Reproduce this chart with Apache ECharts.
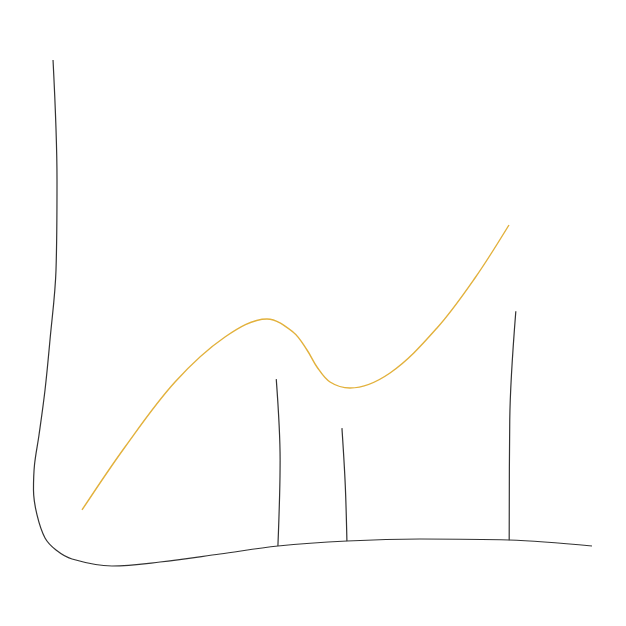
<!DOCTYPE html>
<html>
<head>
<meta charset="utf-8">
<title>sketch</title>
<script src="https://cdn.jsdelivr.net/npm/echarts@6/dist/echarts.min.js"></script>
<style>
html, body { margin: 0; padding: 0; background: #fff; }
#main { width: 626px; height: 626px; }
</style>
</head>
<body>
<div id="main"></div>
<script>
// hand drawn axis frame (left edge running into the baseline)
var axisX = [2.36, 3.08, 2.90, 1.81, 0.91, -0.18, -1.00, -1.18, -0.54, 0.91, 2.90, 5.80, 13.04, 21.74, 32.61, 43.12, 55.62, 68.84, 84.96, 100];
var axisY = [100, 75.26, 56.70, 42.27, 31.96, 22.68, 16.49, 11.34, 6.19, 1.44, -1.03, -2.89, -4.33, -3.51, -1.86, -0.21, 0.82, 1.24, 1.03, -0.21];

// three vertical strokes (top, middle, foot)
var stick1X = [42.8, 43.5, 43.1];
var stick1Y = [34.2, 17.5, -0.2];
var stick2X = [54.7, 55.3, 55.6];
var stick2Y = [24.1, 12.4, 0.8];
var stick3X = [86.2, 85.1, 85.0];
var stick3Y = [48.2, 25.8, 1.0];

// the yellow curve
var curveX = [7.61, 15.40, 24.46, 33.51, 41.12, 45.83, 48.37, 50.18, 52.54, 56.16, 63.41, 71.92, 78.80, 84.96];
var curveY = [7.22, 20.21, 33.61, 42.89, 46.60, 43.92, 40.21, 36.70, 33.61, 32.37, 35.46, 44.74, 55.05, 65.98];

function pairs(xs, ys) {
	var out = [];
	for (var i = 0; i < xs.length; i++) {
		out.push([xs[i], ys[i]]);
	}
	return out;
}

function stroke(xs, ys, color, width) {
	return {
		type: 'line',
		data: pairs(xs, ys),
		smooth: 0.35,
		symbol: 'none',
		clip: false,
		silent: true,
		lineStyle: { color: color, width: width },
		animation: false
	};
}

var chart = echarts.init(document.getElementById('main'));
var option = {
	backgroundColor: '#fff',
	grid: { left: 12.4, right: 34, top: 60, bottom: 32.5 },
	xAxis: { type: 'value', min: -5, max: 100, show: false },
	yAxis: { type: 'value', min: -10, max: 100, show: false },
	series: [
		stroke(axisX, axisY, '#333', 1.2),
		stroke(stick1X, stick1Y, '#333', 1.2),
		stroke(stick2X, stick2Y, '#333', 1.2),
		stroke(stick3X, stick3Y, '#333', 1.2),
		stroke(curveX, curveY, '#e2b13c', 1.4)
	]
};
chart.setOption(option);
</script>
</body>
</html>
